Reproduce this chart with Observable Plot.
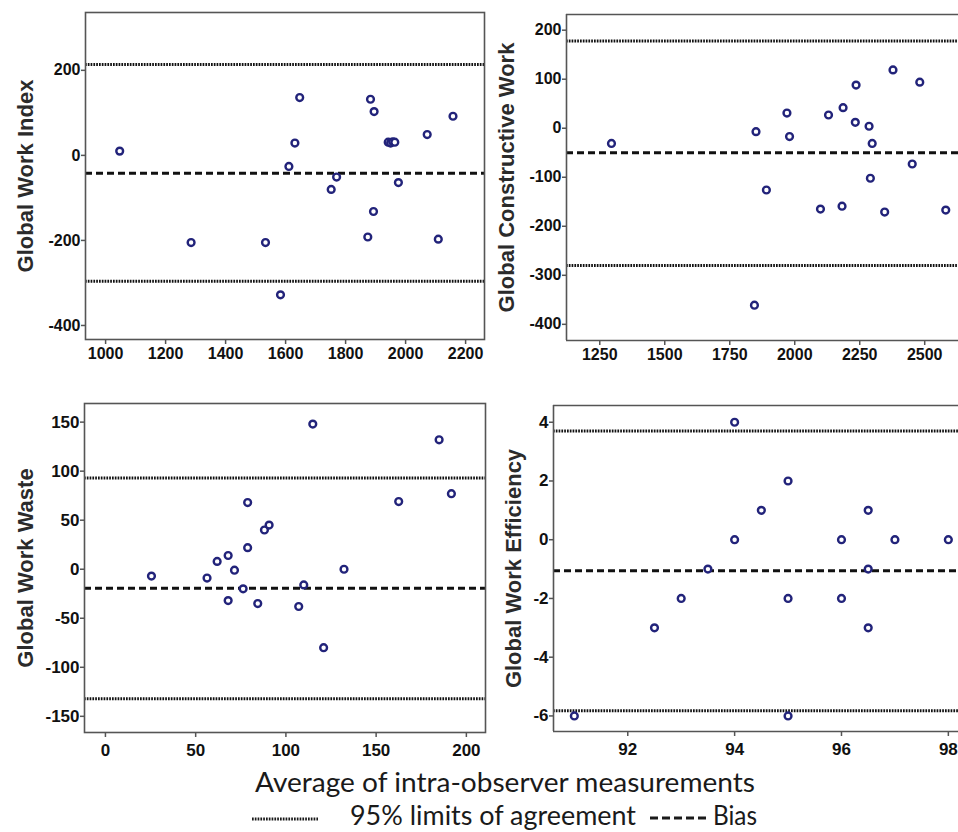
<!DOCTYPE html>
<html>
<head>
<meta charset="utf-8">
<script src="https://cdn.jsdelivr.net/npm/d3@7"></script>
<script src="https://cdn.jsdelivr.net/npm/@observablehq/plot@0.6"></script>
<style>
  html, body { margin: 0; padding: 0; background: #fff; }
  #root { position: relative; width: 958px; height: 832px; overflow: hidden; background: #fff; }
  .panel { position: absolute; }
  .panel svg { display: block; }
  #caption { position: absolute; left: 0; top: 758px; }
</style>
</head>
<body>
<div id="root"></div>
<script>
// ---- Data ----
const panelLabels = ["Global Work Index", "Global Constructive Work", "Global Work Waste", "Global Work Efficiency"];

const gwiAvg  = [1047, 1285, 1533, 1583, 1611, 1631, 1647, 1752, 1770, 1874, 1883, 1895, 1893, 1942, 1950, 1957, 1964, 1976, 2072, 2109, 2158];
const gwiDiff = [10, -205, -205, -328, -26, 29, 136, -80, -51, -192, 132, 103, -132, 31, 29, 32, 31, -64, 49, -197, 92];

const gcwAvg  = [1295, 1845, 1851, 1891, 1970, 1980, 2099, 2130, 2182, 2186, 2233, 2236, 2286, 2291, 2298, 2346, 2378, 2452, 2481, 2581];
const gcwDiff = [-31, -361, -7, -126, 31, -17, -165, 27, -159, 42, 12, 88, 4, -102, -31, -171, 119, -73, 94, -167];

const gwwAvg  = [25.5, 56.3, 61.9, 68, 68, 71.5, 76.3, 78.8, 78.8, 84.4, 88.1, 90.7, 107.1, 109.9, 114.9, 120.9, 132.2, 162.5, 184.9, 191.7];
const gwwDiff = [-7, -9, 8, 14, -32, -1, -20, 68, 22, -35, 40, 45, -38, -16, 148, -80, 0, 69, 132, 77];

const gweAvg  = [91, 92.5, 93, 93.5, 94, 94, 94.5, 95, 95, 95, 96, 96, 96.5, 96.5, 96.5, 97, 98];
const gweDiff = [-6, -3, -2, -1, 4, 0, 1, 2, -2, -6, 0, -2, 1, -1, -3, 0, 0];

const upperLimits = [214, 178, 93, 3.70];
const biasValues  = [-42, -50, -19.4, -1.06];
const lowerLimits = [-296, -280, -132, -5.82];

const xTicks1 = [1000, 1200, 1400, 1600, 1800, 2000, 2200];
const yTicks1 = [-400, -200, 0, 200];
const xTicks2 = [1250, 1500, 1750, 2000, 2250, 2500];
const yTicks2 = [-400, -300, -200, -100, 0, 100, 200];
const xTicks3 = [0, 50, 100, 150, 200];
const yTicks3 = [-150, -100, -50, 0, 50, 100, 150];
const xTicks4 = [92, 94, 96, 98];
const yTicks4 = [-6, -4, -2, 0, 2, 4];

const xDomains = [[933, 2263], [1122, 2630], [-11.6, 210.6], [90.61, 98.19]];
const yDomains = [[-433, 336], [-433, 232], [-166.5, 169], [-6.53, 4.57]];

const captionText = "Average of intra-observer measurements";
const legendLimitsText = "95% limits of agreement";
const legendBiasText = "Bias";

// ---- Layout ----
const layouts = [
  {left: 0,   top: 0,   width: 490, height: 370, mL: 85, mR: 6, mT: 12, mB: 31, labelDx: -60, tickFont: 16, xPad: 3, fullFrame: true},
  {left: 490, top: 0,   width: 468, height: 370, mL: 76, mR: 0, mT: 14, mB: 30, labelDx: -60, tickFont: 16, xPad: 3, fullFrame: false},
  {left: 0,   top: 370, width: 490, height: 400, mL: 84, mR: 5, mT: 33, mB: 38, labelDx: -59, tickFont: 17, xPad: 6, fullFrame: true},
  {left: 490, top: 370, width: 468, height: 400, mL: 63, mR: 0, mT: 35, mB: 39, labelDx: -40, tickFont: 17, xPad: 6, fullFrame: false}
];

const series = [
  {avg: gwiAvg, diff: gwiDiff, xTicks: xTicks1, yTicks: yTicks1},
  {avg: gcwAvg, diff: gcwDiff, xTicks: xTicks2, yTicks: yTicks2},
  {avg: gwwAvg, diff: gwwDiff, xTicks: xTicks3, yTicks: yTicks3},
  {avg: gweAvg, diff: gweDiff, xTicks: xTicks4, yTicks: yTicks4}
];

const root = document.getElementById("root");
const FRAME = "#555";
const DOT = "#22237a";

series.forEach((s, i) => {
  const L = layouts[i];
  const pts = s.avg.map((a, k) => ({avg: a, diff: s.diff[k]}));
  const xd = xDomains[i], yd = yDomains[i];
  const frameMarks = L.fullFrame
    ? [Plot.frame({stroke: FRAME, strokeWidth: 1.6})]
    : [
        Plot.ruleY([yd[0], yd[1]], {stroke: FRAME, strokeWidth: 1.6}),
        Plot.ruleX([xd[0]], {stroke: FRAME, strokeWidth: 1.6})
      ];
  const chart = Plot.plot({
    width: L.width,
    height: L.height,
    marginLeft: L.mL,
    marginRight: L.mR,
    marginTop: L.mT,
    marginBottom: L.mB,
    style: {fontFamily: "'Liberation Sans', Arial, sans-serif", background: "#fff", color: "#111"},
    x: {domain: xd, label: null},
    y: {domain: yd, label: null},
    marks: [
      Plot.ruleY([upperLimits[i], lowerLimits[i]], {stroke: "#111", strokeWidth: 3, strokeDasharray: "1.7,1.1"}),
      Plot.ruleY([biasValues[i]], {stroke: "#111", strokeWidth: 3, strokeDasharray: "7,4"}),
      ...frameMarks,
      Plot.axisX({ticks: s.xTicks, tickFormat: d => String(d), tickSize: 5, tickPadding: L.xPad,
                  fontSize: L.tickFont, fontWeight: "bold", stroke: FRAME, strokeWidth: 1.5, label: null}),
      Plot.axisY({ticks: s.yTicks, tickFormat: d => String(d), tickSize: 4, tickPadding: 1,
                  fontSize: L.tickFont, fontWeight: "bold", stroke: FRAME, strokeWidth: 1.5, label: null}),
      Plot.dot(pts, {x: "avg", y: "diff", r: 3.4, stroke: DOT, strokeWidth: 2.4, fill: "#fff"}),
      Plot.text([panelLabels[i]], {text: d => d, frameAnchor: "left", textAnchor: "middle", lineAnchor: "middle",
                  dx: L.labelDx, rotate: -90, fontSize: 22, fontWeight: "bold", fill: "#2b2b2b"})
    ]
  });
  const div = document.createElement("div");
  div.className = "panel";
  div.style.left = L.left + "px";
  div.style.top = L.top + "px";
  div.appendChild(chart);
  root.appendChild(div);
});

// ---- Caption and legend (below the charts) ----
const ns = "http://www.w3.org/2000/svg";
const cap = document.createElementNS(ns, "svg");
cap.setAttribute("id", "caption");
cap.setAttribute("width", 958);
cap.setAttribute("height", 74);
function addText(str, x, y, len) {
  const t = document.createElementNS(ns, "text");
  t.setAttribute("x", x);
  t.setAttribute("y", y);
  t.setAttribute("font-family", "Lato, 'Open Sans', sans-serif");
  t.setAttribute("font-size", 27);
  t.setAttribute("fill", "#1a1a1a");
  t.setAttribute("textLength", len);
  t.setAttribute("lengthAdjust", "spacingAndGlyphs");
  t.textContent = str;
  cap.appendChild(t);
}
function addLine(x1, x2, y, dash, w) {
  const l = document.createElementNS(ns, "line");
  l.setAttribute("x1", x1); l.setAttribute("x2", x2);
  l.setAttribute("y1", y); l.setAttribute("y2", y);
  l.setAttribute("stroke", "#1a1a1a");
  l.setAttribute("stroke-width", w);
  l.setAttribute("stroke-dasharray", dash);
  cap.appendChild(l);
}
addText(captionText, 255, 34, 500);
addLine(252, 318, 61, "1.7,1.1", 3);
addText(legendLimitsText, 350, 67, 286);
addLine(650, 708, 60, "8,4", 2.8);
addText(legendBiasText, 713, 67, 44);
root.appendChild(cap);
</script>
</body>
</html>
